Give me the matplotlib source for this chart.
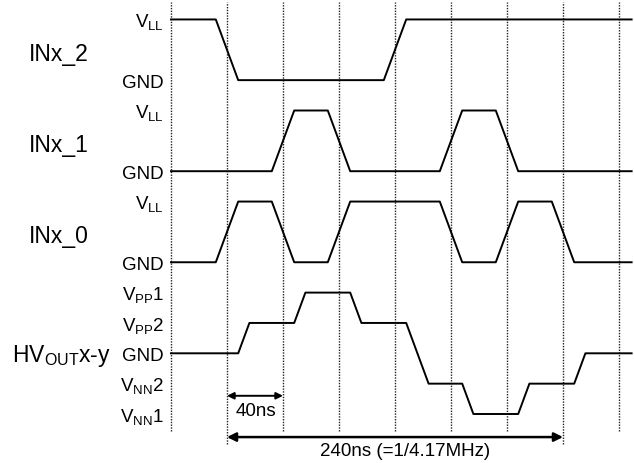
import matplotlib
matplotlib.use('Agg')
import matplotlib.pyplot as plt

plt.rcParams['font.family'] = ['Liberation Sans', 'DejaVu Sans']
plt.rcParams['mathtext.fontset'] = 'custom'
plt.rcParams['mathtext.rm'] = 'Liberation Sans'
plt.rcParams['mathtext.it'] = 'Liberation Sans'
plt.rcParams['mathtext.default'] = 'rm'

# time in ns, levels per signal
grid_times = [0, 40, 80, 120, 160, 200, 240, 280, 320]

inx2_t = [0, 32, 48, 152, 168, 329]
inx2_v = [1, 1, 0, 0, 1, 1]
inx1_t = [0, 72, 88, 112, 128, 192, 208, 232, 248, 329]
inx1_v = [0, 0, 1, 1, 0, 0, 1, 1, 0, 0]
inx0_t = [0, 32, 48, 72, 88, 112, 128, 192, 208, 232, 248, 272, 288, 329]
inx0_v = [0, 0, 1, 1, 0, 0, 1, 1, 0, 0, 1, 1, 0, 0]
hv_t = [0, 48, 56, 88, 96, 128, 136, 168, 184, 208, 216, 248, 256, 288, 296, 329]
hv_v = [0, 0, 1, 1, 2, 2, 1, 1, -1, -1, -2, -2, -1, -1, 0, 0]

logic_names = ['INx_2', 'INx_1', 'INx_0']
logic_labels = ['$V_{LL}$', 'GND']
hv_levels = [2, 1, 0, -1, -2]
hv_labels = ['$V_{PP}$1', '$V_{PP}$2', 'GND', '$V_{NN}$2', '$V_{NN}$1']

# layout: 1.4 px per ns, 30.35 px per level step
px_ns = 1.4
px_step = 30.35
fig = plt.figure(figsize=(6.34, 4.64), dpi=100)
ax = fig.add_axes([0, 0, 1, 1])
ax.set_xlim(-171 / px_ns, (634 - 171) / px_ns)
ax.set_ylim((354.3 - 464) / px_step, 354.3 / px_step)
ax.axis('off')

# dotted grid
for t in grid_times:
    bottom = -3.0 if t in (40, 280) else -2.55
    ax.plot([t, t], [bottom, 11.57], color='#222222', lw=1.0,
            linestyle=(0, (1, 1)), zorder=1)

lw = 1.4
name_size = 16.5
lab_size = 13.5

rows = [(inx2_t, inx2_v, 9), (inx1_t, inx1_v, 6), (inx0_t, inx0_v, 3)]
for (ts, vs, base), name in zip(rows, logic_names):
    ax.plot(ts, [base + 2 * v for v in vs], color='black', lw=lw, zorder=3)
    ax.text(-101.8, base + 0.68, name, fontsize=name_size, ha='left', va='baseline')
    ax.text(-5, base + 2 - 0.22, logic_labels[0], fontsize=lab_size, ha='right', va='baseline')
    ax.text(-5, base - 0.22, logic_labels[1], fontsize=lab_size, ha='right', va='baseline')

ax.plot(hv_t, hv_v, color='black', lw=lw, zorder=3)
ax.text(-113.9, -0.24, 'HV$_{OUT}$x-y', fontsize=name_size, ha='left', va='baseline')
for lv, lab in zip(hv_levels, hv_labels):
    ax.text(-5, lv - 0.22, lab, fontsize=lab_size, ha='right', va='baseline')

# period arrows
ax.annotate('', xy=(40, -1.40), xytext=(80, -1.40),
            arrowprops=dict(arrowstyle='<|-|>', color='black', lw=1.4,
                            mutation_scale=10, shrinkA=0, shrinkB=0))
ax.text(60.5, -1.89, '40ns', fontsize=lab_size, ha='center', va='center')
ax.annotate('', xy=(40, -2.76), xytext=(280, -2.76),
            arrowprops=dict(arrowstyle='<|-|>', color='black', lw=1.8,
                            mutation_scale=13, shrinkA=0, shrinkB=0))
ax.text(167, -3.21, '240ns (=1/4.17MHz)', fontsize=lab_size, ha='center', va='center')

fig.savefig('out.png', dpi=100)
